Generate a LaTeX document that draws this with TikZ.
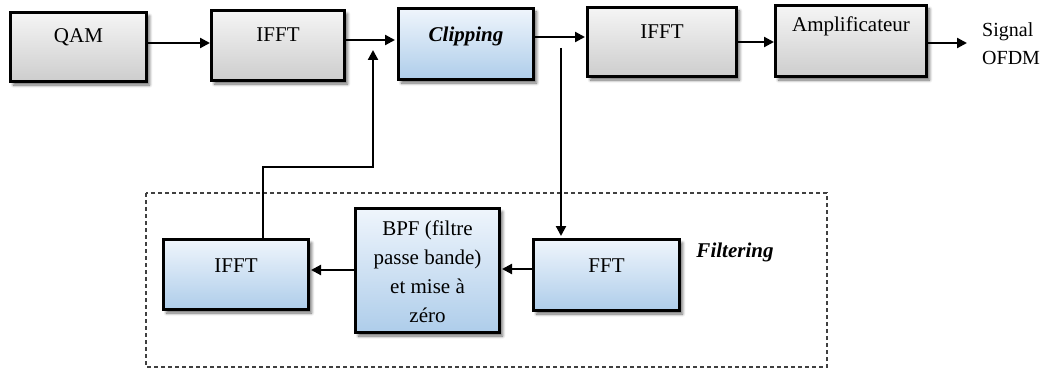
\documentclass[tikz,border=0pt]{standalone}
\usepackage{fontspec}
\setmainfont{Liberation Serif}
\usetikzlibrary{arrows.meta,shadows.blur}

\definecolor{boxtop}{HTML}{F5F5F5}
\definecolor{boxbot}{HTML}{CDCDCD}
\definecolor{bluetop}{HTML}{EFF5FC}
\definecolor{bluebot}{HTML}{AECDEA}
\definecolor{dashgray}{HTML}{404040}

\begin{document}
\begin{tikzpicture}[x=1pt,y=-1pt,
  box/.style={draw=black, line width=3pt, rectangle, inner sep=0pt,
    blur shadow={shadow xshift=3pt, shadow yshift=-3.5pt, shadow blur radius=3pt,
      shadow blur steps=6, shadow opacity=60}},
  graybox/.style={box, top color=boxtop, bottom color=boxbot},
  bluebox/.style={box, top color=bluetop, bottom color=bluebot},
  txt/.style={font=\fontsize{21}{29}\selectfont, inner sep=0pt, anchor=base},
  arr/.style={line width=2.2pt, -{Triangle[length=10pt,width=10pt]}},
  dashbox/.style={draw=dashgray, line width=1.1pt, dash pattern=on 4pt off 3pt}]

\useasboundingbox (0,0) rectangle (1047,369);

% main transmit chain
\node[graybox, minimum width=136pt, minimum height=69pt,
  label={[txt, name=qamt, yshift=-32pt]north:QAM}] (qam) at (78.5,47) {};
\node[graybox, minimum width=133pt, minimum height=70pt,
  label={[txt, name=ifftat, yshift=-33pt]north:IFFT}] (iffta) at (278,45.5) {};
\node[bluebox, minimum width=135pt, minimum height=71pt,
  label={[txt, name=clipt, yshift=-35pt, font=\fontsize{21}{29}\selectfont\bfseries\itshape]north:Clipping}] (clip) at (466,44) {};
\node[graybox, minimum width=149pt, minimum height=69pt,
  label={[txt, name=ifftbt, yshift=-33pt]north:IFFT}] (ifftb) at (662,42) {};
\node[graybox, minimum width=151pt, minimum height=71pt,
  label={[txt, name=ampt, yshift=-28pt]north:Amplificateur}] (amp) at (851,41) {};
\node[font=\fontsize{20}{28}\selectfont, align=left, inner sep=0pt, anchor=west]
  (sig) at (982,44) {Signal\\OFDM};

% filtering loop
\draw[dashbox] (146,193) rectangle (827,367);
\node[bluebox, minimum width=145pt, minimum height=70pt,
  label={[txt, name=ifftct, yshift=-34pt]north:IFFT}] (ifftc) at (236,274.5) {};
\node[bluebox, minimum width=144pt, minimum height=124pt,
  label={[txt, name=bpft, anchor=north, align=center, yshift=-14pt]north:BPF (filtre\\passe bande)\\et mise à\\zéro}] (bpf) at (427.5,270.5) {};
\node[bluebox, minimum width=146pt, minimum height=71pt,
  label={[txt, name=fftt, yshift=-34pt]north:FFT}] (fft) at (606.5,275) {};
\node[txt, font=\fontsize{21}{29}\selectfont\bfseries\itshape] (filt) at (735,257) {Filtering};

% connectors
\draw[arr] (qam.east |- 0,43) -- (iffta.west |- 0,43);
\draw[arr, shorten >=2pt] (iffta.east |- 0,40) -- (clip.west |- 0,40);
\draw[arr, shorten >=1pt] (clip.east |- 0,37) -- (ifftb.west |- 0,37);
\draw[arr] (ifftb.east |- 0,42) -- (amp.west |- 0,42);
\draw[arr, shorten >=15pt] (amp.east |- 0,43) -- (sig.west |- 0,43);

\coordinate (brtop) at (561,48);
\draw[arr, shorten >=2pt] (brtop) -- (brtop |- fft.north);
\draw[arr, shorten >=1pt] (fft.west |- 0,269) -- (bpf.east |- 0,269);
\draw[arr, shorten >=1pt] (bpf.west |- 0,270) -- (ifftc.east |- 0,270);

\coordinate (fbtip) at (373,50);
\draw[arr] (ifftc.north -| 263,0) |- (fbtip |- 0,167) -- (fbtip);
\end{tikzpicture}
\end{document}
